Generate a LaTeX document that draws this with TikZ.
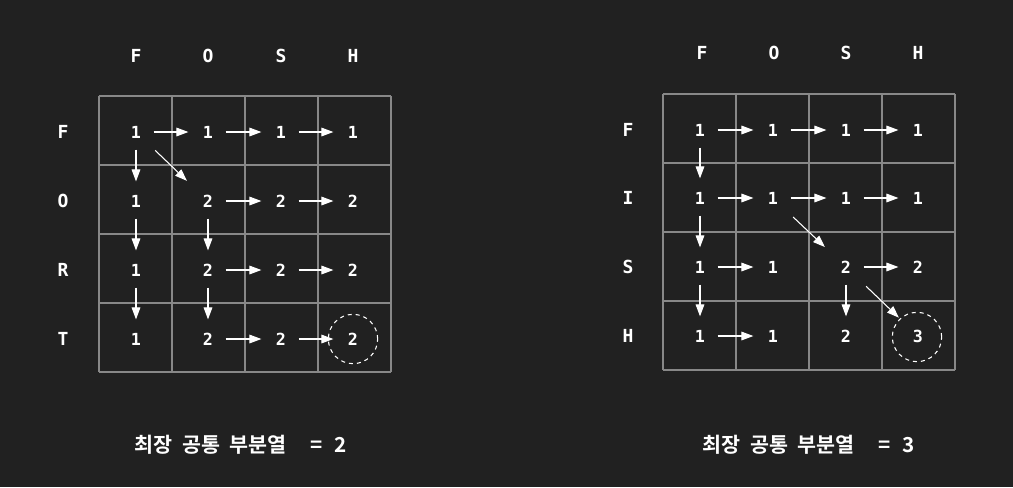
\documentclass[tikz,border=0pt]{standalone}
\usepackage{fontspec}
\setmonofont{DejaVu Sans Mono}
\newfontfamily\kor{Noto Sans CJK KR Bold}
\usepackage{xcolor}
\usepackage{tikz}
\usetikzlibrary{arrows.meta}

\definecolor{bgdark}{RGB}{33,33,33}
\definecolor{gridgray}{RGB}{136,136,136}

\tikzset{
  num/.style={rectangle, minimum width=24pt, minimum height=24pt, inner sep=0pt,
    text=white, font=\ttfamily\bfseries\fontsize{12.5}{14}\selectfont},
  lbl/.style={inner sep=0pt, text=white, font=\ttfamily\bfseries\fontsize{13.5}{15}\selectfont},
  arr/.style={draw=white, line width=0.8pt, -{Triangle[length=9pt,width=6.5pt]},
    shorten <=1pt, shorten >=2.5pt},
  ring/.style={circle, draw=white, dashed, line width=0.8pt, minimum size=37pt, inner sep=0pt},
  cell/.style={draw=gridgray, line width=1pt},
  result/.style={inner sep=0pt, text=white, font=\kor\fontsize{15.5}{18}\selectfont}
}

\begin{document}
\begin{tikzpicture}[x=0.75pt,y=0.75pt,yscale=-1,xscale=1]
	%background, sets the size
	\fill[bgdark] (0,0) rectangle (1013,487);

	%Left table: FOSH vs FORT
	\draw[cell] (99,96) -- (391,96) ;
	\draw[cell] (99,165) -- (391,165) ;
	\draw[cell] (99,234) -- (391,234) ;
	\draw[cell] (99,303) -- (391,303) ;
	\draw[cell] (99,372) -- (391,372) ;
	\draw[cell] (99,96) -- (99,372) ;
	\draw[cell] (172,96) -- (172,372) ;
	\draw[cell] (245,96) -- (245,372) ;
	\draw[cell] (318,96) -- (318,372) ;
	\draw[cell] (391,96) -- (391,372) ;

	% column / row letters
	\node[lbl] (lc1) at (136,56) {F};
	\node[lbl] (lc2) at (208,56) {O};
	\node[lbl] (lc3) at (281,56) {S};
	\node[lbl] (lc4) at (353,56) {H};
	\node[lbl] (lr1) at (63,132) {F};
	\node[lbl] (lr2) at (63,201) {O};
	\node[lbl] (lr3) at (63,270) {R};
	\node[lbl] (lr4) at (63,339) {T};

	% values
	\node[num] (a11) at (136,132) {1};
	\node[num] (a12) at (208,132) {1};
	\node[num] (a13) at (281,132) {1};
	\node[num] (a14) at (353,132) {1};
	\node[num] (a21) at (136,201) {1};
	\node[num] (a22) at (208,201) {2};
	\node[num] (a23) at (281,201) {2};
	\node[num] (a24) at (353,201) {2};
	\node[num] (a31) at (136,270) {1};
	\node[num] (a32) at (208,270) {2};
	\node[num] (a33) at (281,270) {2};
	\node[num] (a34) at (353,270) {2};
	\node[num] (a41) at (136,339) {1};
	\node[num] (a42) at (208,339) {2};
	\node[num] (a43) at (281,339) {2};
	\node[num] (a44) at (353,339) {2};
	\node[ring] (aend) at (353,339) {};

	% arrows
	\draw[arr] (a11) -- (a12) ;
	\draw[arr] (a12) -- (a13) ;
	\draw[arr] (a13) -- (a14) ;
	\draw[arr] (a11) -- (a21) ;
	\draw[arr, shorten <=3pt, shorten >=5pt] (a11) -- (a22) ;
	\draw[arr] (a22) -- (a23) ;
	\draw[arr] (a23) -- (a24) ;
	\draw[arr] (a21) -- (a31) ;
	\draw[arr] (a22) -- (a32) ;
	\draw[arr] (a32) -- (a33) ;
	\draw[arr] (a33) -- (a34) ;
	\draw[arr] (a31) -- (a41) ;
	\draw[arr] (a32) -- (a42) ;
	\draw[arr] (a42) -- (a43) ;
	\draw[arr] (a43) -- (a44) ;

	%Right table: FOSH vs FISH
	\draw[cell] (663,94) -- (955,94) ;
	\draw[cell] (663,163) -- (955,163) ;
	\draw[cell] (663,232) -- (955,232) ;
	\draw[cell] (663,301) -- (955,301) ;
	\draw[cell] (663,370) -- (955,370) ;
	\draw[cell] (663,94) -- (663,370) ;
	\draw[cell] (736,94) -- (736,370) ;
	\draw[cell] (809,94) -- (809,370) ;
	\draw[cell] (882,94) -- (882,370) ;
	\draw[cell] (955,94) -- (955,370) ;

	% column / row letters
	\node[lbl] (rc1) at (702,53) {F};
	\node[lbl] (rc2) at (774,53) {O};
	\node[lbl] (rc3) at (846,53) {S};
	\node[lbl] (rc4) at (918,53) {H};
	\node[lbl] (rr1) at (628,130) {F};
	\node[lbl] (rr2) at (628,198) {I};
	\node[lbl] (rr3) at (628,267) {S};
	\node[lbl] (rr4) at (628,336) {H};

	% values
	\node[num] (b11) at (700,130) {1};
	\node[num] (b12) at (773,130) {1};
	\node[num] (b13) at (846,130) {1};
	\node[num] (b14) at (918,130) {1};
	\node[num] (b21) at (700,198) {1};
	\node[num] (b22) at (773,198) {1};
	\node[num] (b23) at (846,198) {1};
	\node[num] (b24) at (918,198) {1};
	\node[num] (b31) at (700,267) {1};
	\node[num] (b32) at (773,267) {1};
	\node[num] (b33) at (846,267) {2};
	\node[num] (b34) at (918,267) {2};
	\node[num] (b41) at (700,336) {1};
	\node[num] (b42) at (773,336) {1};
	\node[num] (b43) at (846,336) {2};
	\node[num] (b44) at (918,336) {3};
	\node[ring] (bend) at (917,337) {};

	% arrows
	\draw[arr] (b11) -- (b12) ;
	\draw[arr] (b12) -- (b13) ;
	\draw[arr] (b13) -- (b14) ;
	\draw[arr] (b11) -- (b21) ;
	\draw[arr] (b21) -- (b22) ;
	\draw[arr] (b22) -- (b23) ;
	\draw[arr] (b23) -- (b24) ;
	\draw[arr] (b21) -- (b31) ;
	\draw[arr, shorten <=4pt, shorten >=5pt] (b22) -- (b33) ;
	\draw[arr] (b31) -- (b32) ;
	\draw[arr] (b33) -- (b34) ;
	\draw[arr] (b31) -- (b41) ;
	\draw[arr] (b33) -- (b43) ;
	\draw[arr, shorten <=4pt, shorten >=3pt] (b33) -- (b44) ;
	\draw[arr] (b41) -- (b42) ;

	% Text Node
	\node[result] (lcs1) at (241,445) {최장\hspace{7pt}공통\hspace{7pt}부분열\hspace{18pt}=\hspace{9pt}2};
	% Text Node
	\node[result] (lcs2) at (809,445) {최장\hspace{7pt}공통\hspace{7pt}부분열\hspace{18pt}=\hspace{9pt}3};

\end{tikzpicture}
\end{document}
